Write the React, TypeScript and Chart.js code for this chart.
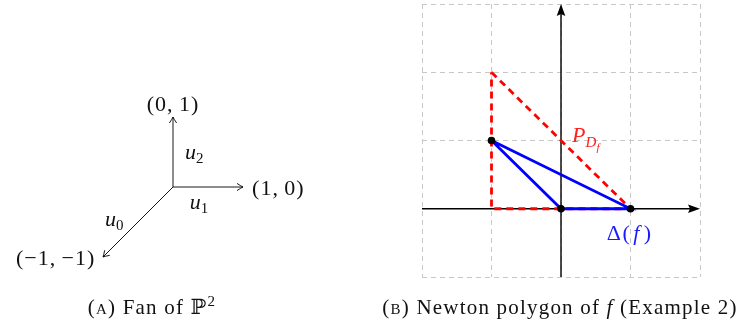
import React, { useEffect, useRef } from "react";
import { Chart, registerables } from "chart.js";
Chart.register(...registerables);

// ---------- Panel A: fan of P^2 ----------
const fanRays = [
  { x: 1, y: 0 },
  { x: 0, y: 1 },
  { x: -1, y: -1 },
];
const fanEndLabels = ["(1,\u20090)", "(0,\u20091)", "(\u22121,\u2009\u22121)"];
const fanEndAnchors = [
  { x: 1.13, y: 0.0, align: "left" },
  { x: 0.0, y: 1.2, align: "center" },
  { x: -1.11, y: -1.0, align: "right" },
];
const fanRayNames = ["1", "2", "0"];
const fanNameAnchors = [
  { x: 0.24, y: -0.26 },
  { x: 0.17, y: 0.46 },
  { x: -0.97, y: -0.5 },
];

// ---------- Panel B: Newton polygon ----------
const gridX = [-2, 2];
const gridY = [-1, 3];
const redPolygon = [
  { x: -1, y: 2 },
  { x: 1, y: 0 },
  { x: -1, y: 0 },
  { x: -1, y: 2 },
];
const bluePolygon = [
  { x: -1, y: 1 },
  { x: 0, y: 0 },
  { x: 1, y: 0 },
  { x: -1, y: 1 },
];
const monomials = [
  { x: -1, y: 1 },
  { x: 0, y: 0 },
  { x: 1, y: 0 },
];
const pLabelAnchor = { x: 0.16, y: 0.98 };
const deltaLabelAnchor = { x: 0.66, y: -0.35 };

const SERIF = '"Liberation Serif", "DejaVu Serif", serif';

type Run = { text: string; font: string; dy?: number; ls?: number };
function drawRuns(ctx: CanvasRenderingContext2D, x: number, y: number, runs: Run[], align: string, color: string) {
  ctx.save();
  ctx.fillStyle = color;
  ctx.textBaseline = "alphabetic";
  ctx.textAlign = "left";
  const anyCtx = ctx as any;
  const widthOf = (r: Run) => {
    ctx.font = r.font;
    anyCtx.letterSpacing = `${r.ls || 0}px`;
    return ctx.measureText(r.text).width;
  };
  let total = 0;
  for (const r of runs) total += widthOf(r);
  let cx = x;
  if (align === "center") cx = x - total / 2;
  else if (align === "right") cx = x - total;
  for (const r of runs) {
    const w = widthOf(r);
    ctx.fillText(r.text, cx, y + (r.dy || 0));
    cx += w;
  }
  anyCtx.letterSpacing = "0px";
  ctx.restore();
}

const fanPlugin = {
  id: "fanDecor",
  afterDatasetsDraw(chart: any) {
    const ctx = chart.ctx as CanvasRenderingContext2D;
    const xs = chart.scales.x;
    const ys = chart.scales.y;
    const ox = xs.getPixelForValue(0);
    const oy = ys.getPixelForValue(0);
    ctx.save();
    ctx.strokeStyle = "#000";
    ctx.lineWidth = 0.9;
    fanRays.forEach((r) => {
      const tx = xs.getPixelForValue(r.x);
      const ty = ys.getPixelForValue(r.y);
      const ang = Math.atan2(ty - oy, tx - ox);
      const L = 6,
        W = 3.6;
      const bx = tx - L * Math.cos(ang);
      const by = ty - L * Math.sin(ang);
      const px = -Math.sin(ang),
        py = Math.cos(ang);
      ctx.beginPath();
      ctx.moveTo(bx + W * px, by + W * py);
      ctx.quadraticCurveTo(tx - 1.5 * Math.cos(ang) + 0.6 * px, ty - 1.5 * Math.sin(ang) + 0.6 * py, tx, ty);
      ctx.quadraticCurveTo(tx - 1.5 * Math.cos(ang) - 0.6 * px, ty - 1.5 * Math.sin(ang) - 0.6 * py, bx - W * px, by - W * py);
      ctx.stroke();
    });
    ctx.restore();
    fanEndLabels.forEach((t, i) => {
      const a = fanEndAnchors[i];
      drawRuns(ctx, xs.getPixelForValue(a.x), ys.getPixelForValue(a.y) + 7.5, [{ text: t, font: `22px ${SERIF}`, ls: 1 }], a.align, "#111");
    });
    fanRayNames.forEach((n, i) => {
      const a = fanNameAnchors[i];
      drawRuns(
        ctx,
        xs.getPixelForValue(a.x),
        ys.getPixelForValue(a.y) + 4,
        [
          { text: "u", font: `italic 22px ${SERIF}` },
          { text: n, font: `15px ${SERIF}`, dy: 4 },
        ],
        "left",
        "#111"
      );
    });
  },
};

const newtonPlugin = {
  id: "newtonDecor",
  beforeDatasetsDraw(chart: any) {
    const ctx = chart.ctx as CanvasRenderingContext2D;
    const xs = chart.scales.x;
    const ys = chart.scales.y;
    const xl = xs.getPixelForValue(gridX[0]);
    const xr = xs.getPixelForValue(gridX[1]);
    const yb = ys.getPixelForValue(gridY[0]);
    const yt = ys.getPixelForValue(gridY[1]);
    const x0 = xs.getPixelForValue(0);
    const y0 = ys.getPixelForValue(0);
    ctx.save();
    ctx.strokeStyle = "#000";
    ctx.fillStyle = "#000";
    ctx.lineWidth = 1.4;
    ctx.beginPath();
    ctx.moveTo(xl, y0);
    ctx.lineTo(xr - 8, y0);
    ctx.moveTo(x0, yb);
    ctx.lineTo(x0, yt + 8);
    ctx.stroke();
    ctx.beginPath();
    ctx.moveTo(xr, y0);
    ctx.lineTo(xr - 12, y0 - 4.3);
    ctx.lineTo(xr - 10, y0);
    ctx.lineTo(xr - 12, y0 + 4.3);
    ctx.closePath();
    ctx.fill();
    ctx.beginPath();
    ctx.moveTo(x0, yt);
    ctx.lineTo(x0 - 4.3, yt + 12);
    ctx.lineTo(x0, yt + 10);
    ctx.lineTo(x0 + 4.3, yt + 12);
    ctx.closePath();
    ctx.fill();
    ctx.restore();
  },
  afterDatasetsDraw(chart: any) {
    const ctx = chart.ctx as CanvasRenderingContext2D;
    const xs = chart.scales.x;
    const ys = chart.scales.y;
    drawRuns(
      ctx,
      xs.getPixelForValue(pLabelAnchor.x),
      ys.getPixelForValue(pLabelAnchor.y),
      [
        { text: "P", font: `italic 22px ${SERIF}` },
        { text: "D", font: `italic 15px ${SERIF}`, dy: 5 },
        { text: "f", font: `italic 11px ${SERIF}`, dy: 9 },
      ],
      "left",
      "#ff2020"
    );
    drawRuns(
      ctx,
      xs.getPixelForValue(deltaLabelAnchor.x),
      ys.getPixelForValue(deltaLabelAnchor.y) + 7.5,
      [
        { text: "\u0394(", font: `22px ${SERIF}`, ls: 1.5 },
        { text: "\u200Af\u2009", font: `italic 22px ${SERIF}` },
        { text: ")", font: `22px ${SERIF}` },
      ],
      "left",
      "#1a1aff"
    );
  },
};

export default function App() {
  const leftRef = useRef<HTMLCanvasElement>(null);
  const rightRef = useRef<HTMLCanvasElement>(null);

  useEffect(() => {
    const unit = 70;
    const ox = 173,
      oy = 187;
    const left = new Chart(leftRef.current!, {
      type: "scatter",
      data: {
        datasets: fanRays.map((r) => ({
          data: [{ x: 0, y: 0 }, r],
          showLine: true,
          borderColor: "#000",
          borderWidth: 0.9,
          pointRadius: 0,
        })),
      },
      options: {
        animation: false,
        responsive: false,
        events: [],
        layout: { padding: 0 },
        plugins: { legend: { display: false }, tooltip: { enabled: false } },
        scales: {
          x: { type: "linear", display: false, min: -ox / unit, max: (372 - ox) / unit },
          y: { type: "linear", display: false, min: (oy - 324) / unit, max: oy / unit },
        },
      },
      plugins: [fanPlugin],
    });

    const right = new Chart(rightRef.current!, {
      type: "scatter",
      data: {
        datasets: [
          {
            data: monomials,
            order: 1,
            showLine: false,
            pointRadius: 3.8,
            pointBackgroundColor: "#000",
            pointBorderColor: "#000",
            pointBorderWidth: 0,
          },
          { data: bluePolygon, order: 2, showLine: true, borderColor: "#0000ff", borderWidth: 2.8, pointRadius: 0 },
          {
            data: redPolygon,
            order: 3,
            showLine: true,
            borderColor: "#ff0000",
            borderWidth: 2.8,
            borderDash: [7, 5],
            pointRadius: 0,
          },
        ],
      },
      options: {
        animation: false,
        responsive: false,
        events: [],
        clip: false,
        layout: { padding: { left: 50, right: 45, top: 0, bottom: 13 } },
        plugins: { legend: { display: false }, tooltip: { enabled: false } },
        scales: {
          x: {
            type: "linear",
            min: gridX[0],
            max: gridX[1],
            ticks: { display: false, stepSize: 1 },
            grid: { color: "#c8c8c8", lineWidth: 1, drawTicks: false },
            border: { display: false, dash: [5, 4] },
          },
          y: {
            type: "linear",
            min: gridY[0],
            max: gridY[1],
            ticks: { display: false, stepSize: 1 },
            grid: { color: "#c8c8c8", lineWidth: 1, drawTicks: false },
            border: { display: false, dash: [5, 4] },
          },
        },
      },
      plugins: [newtonPlugin],
    });
    return () => {
      left.destroy();
      right.destroy();
    };
  }, []);

  const capStyle: React.CSSProperties = {
    position: "absolute",
    top: 297,
    fontFamily: SERIF,
    fontSize: 21,
    lineHeight: "21px",
    letterSpacing: "1.2px",
    color: "#111",
    textAlign: "center",
    whiteSpace: "nowrap",
  };

  return (
    <div style={{ position: "fixed", left: 0, top: 0, width: 745, height: 324, background: "#fff", overflow: "hidden" }}>
      <canvas ref={leftRef} width={372} height={324} style={{ position: "absolute", left: 0, top: 0, width: 372, height: 324 }} />
      <canvas ref={rightRef} width={373} height={290} style={{ position: "absolute", left: 372, top: 0, width: 373, height: 290 }} />
      <div style={{ ...capStyle, left: 52, width: 200 }}>
        (<span style={{ fontVariant: "small-caps" }}>a</span>) Fan of {"\u2119"}
        <sup style={{ fontSize: 15, lineHeight: 0 }}>2</sup>
      </div>
      <div style={{ ...capStyle, left: 360, width: 400 }}>
        (<span style={{ fontVariant: "small-caps" }}>b</span>) Newton polygon of <i>f</i> (Example 2)
      </div>
    </div>
  );
}
